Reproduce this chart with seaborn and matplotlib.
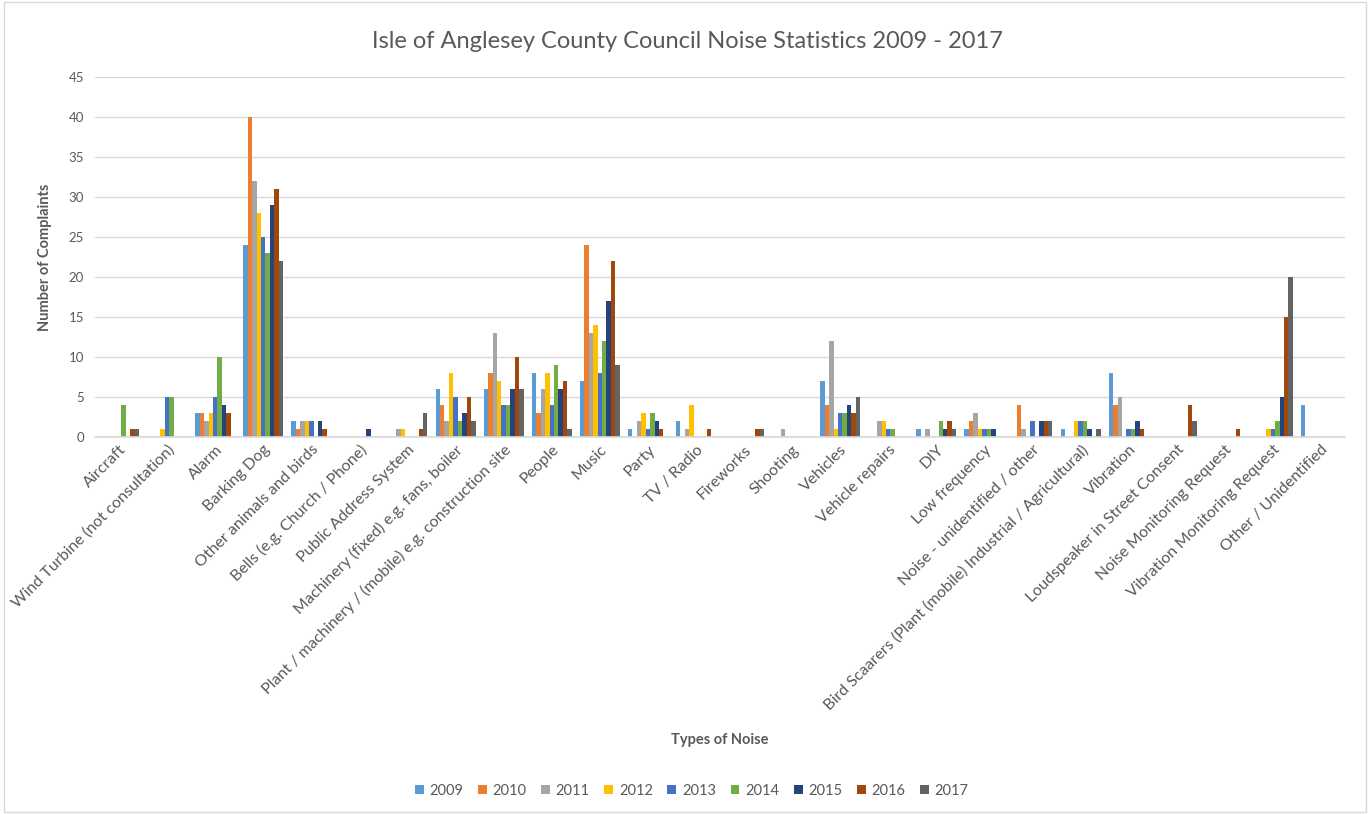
import matplotlib
matplotlib.use("Agg")
import matplotlib.pyplot as plt
import seaborn as sns
import pandas as pd
from matplotlib.patches import Rectangle, Patch

categories = [
    "Aircraft",
    "Wind Turbine (not consultation)",
    "Alarm",
    "Barking Dog",
    "Other animals and birds",
    "Bells (e.g. Church / Phone)",
    "Public Address System",
    "Machinery (fixed) e.g. fans, boiler",
    "Plant / machinery / (mobile) e.g. construction site",
    "People",
    "Music",
    "Party",
    "TV / Radio",
    "Fireworks",
    "Shooting",
    "Vehicles",
    "Vehicle repairs",
    "DIY",
    "Low frequency",
    "Noise - unidentified / other",
    "Bird Scaarers (Plant (mobile) Industrial / Agricultural)",
    "Vibration",
    "Loudspeaker in Street Consent",
    "Noise Monitoring Request",
    "Vibration Monitoring Request",
    "Other / Unidentified",
]

years = ["2009", "2010", "2011", "2012", "2013", "2014", "2015", "2016", "2017"]

# values per category, one entry per year 2009..2017
aircraft        = [0, 0, 0, 0, 0, 4, 0, 1, 1]
wind_turbine    = [0, 0, 0, 1, 5, 5, 0, 0, 0]
alarm           = [3, 3, 2, 3, 5, 10, 4, 3, 0]
barking_dog     = [24, 40, 32, 28, 25, 23, 29, 31, 22]
other_animals   = [2, 1, 2, 2, 2, 0, 2, 1, 0]
bells           = [0, 0, 0, 0, 0, 0, 1, 0, 0]
public_address  = [0, 0, 1, 1, 0, 0, 0, 1, 3]
machinery_fixed = [6, 4, 2, 8, 5, 2, 3, 5, 2]
plant_mobile    = [6, 8, 13, 7, 4, 4, 6, 10, 6]
people          = [8, 3, 6, 8, 4, 9, 6, 7, 1]
music           = [7, 24, 13, 14, 8, 12, 17, 22, 9]
party           = [1, 0, 2, 3, 1, 3, 2, 1, 0]
tv_radio        = [2, 0, 1, 4, 0, 0, 0, 1, 0]
fireworks       = [0, 0, 0, 0, 0, 0, 0, 1, 1]
shooting        = [0, 0, 1, 0, 0, 0, 0, 0, 0]
vehicles        = [7, 4, 12, 1, 3, 3, 4, 3, 5]
vehicle_repairs = [0, 0, 2, 2, 1, 1, 0, 0, 0]
diy             = [1, 0, 1, 0, 0, 2, 1, 2, 1]
low_frequency   = [1, 2, 3, 1, 1, 1, 1, 0, 0]
noise_unident   = [0, 4, 1, 0, 2, 0, 2, 2, 2]
bird_scarers    = [1, 0, 0, 2, 2, 2, 1, 0, 1]
vibration       = [8, 4, 5, 0, 1, 1, 2, 1, 0]
loudspeaker     = [0, 0, 0, 0, 0, 0, 0, 4, 2]
noise_monitor   = [0, 0, 0, 0, 0, 0, 0, 1, 0]
vib_monitor     = [0, 0, 0, 1, 1, 2, 5, 15, 20]
other_unident   = [4, 0, 0, 0, 0, 0, 0, 0, 0]

series = [aircraft, wind_turbine, alarm, barking_dog, other_animals, bells,
          public_address, machinery_fixed, plant_mobile, people, music, party,
          tv_radio, fireworks, shooting, vehicles, vehicle_repairs, diy,
          low_frequency, noise_unident, bird_scarers, vibration, loudspeaker,
          noise_monitor, vib_monitor, other_unident]

colors = ["#5B9BD5", "#ED7D31", "#A5A5A5", "#FFC000", "#4472C4",
          "#70AD47", "#264478", "#9E480E", "#636363"]

rows = []
for cat, vals in zip(categories, series):
    for yr, v in zip(years, vals):
        rows.append({"Type": cat, "Year": yr, "Count": v})
df = pd.DataFrame(rows)

sns.set_theme(style="white")
plt.rcParams["font.family"] = ["Lato", "DejaVu Sans"]

txt = "#595959"
fig = plt.figure(figsize=(13.7, 8.14), dpi=100)
ax = fig.add_axes([95/1370, 1-437/814, 1250/1370, 360/814])

sns.barplot(data=df, x="Type", y="Count", hue="Year", order=categories,
            hue_order=years, palette=colors, width=0.83, ax=ax,
            saturation=1, legend=False, linewidth=0)

ax.set_ylim(0, 45)
ax.set_yticks(range(0, 46, 5))
ax.yaxis.grid(True, color="#D9D9D9", linewidth=1)
ax.set_axisbelow(True)
for s in ["top", "right", "left"]:
    ax.spines[s].set_visible(False)
ax.spines["bottom"].set_color("#D9D9D9")
ax.tick_params(axis="y", length=0, labelsize=9.5, labelcolor=txt, pad=8)
ax.tick_params(axis="x", length=0, labelsize=11.5, labelcolor=txt, pad=4)
ax.set_xticks(range(len(categories)))
ax.set_xticklabels(categories, rotation=45, ha="right", rotation_mode="anchor")
ax.set_xlabel("")
ax.set_ylabel("")

fig.text(687/1370, 1-42/814, "Isle of Anglesey County Council Noise Statistics 2009 - 2017",
         ha="center", va="center", fontsize=17, color=txt)
fig.text(720/1370, 1-740/814, "Types of Noise", ha="center", va="center",
         fontsize=10.5, fontweight="bold", color=txt)
fig.text(45/1370, 1-257/814, "Number of Complaints", ha="center", va="center",
         rotation=90, fontsize=10.5, fontweight="bold", color=txt)

handles = [Patch(facecolor=c, edgecolor="none") for c in colors]
fig.legend(handles, years, loc="center", bbox_to_anchor=(0.505, 1-791/814),
           ncol=9, frameon=False, fontsize=10.5, handlelength=0.6,
           handleheight=0.6, columnspacing=1.0, handletextpad=0.4,
           labelcolor=txt)

fig.patches.append(Rectangle((0.003, 0.003), 0.994, 0.994, transform=fig.transFigure,
                             fill=False, edgecolor="#D9D9D9", linewidth=1))

fig.savefig("out.png", dpi=100)
